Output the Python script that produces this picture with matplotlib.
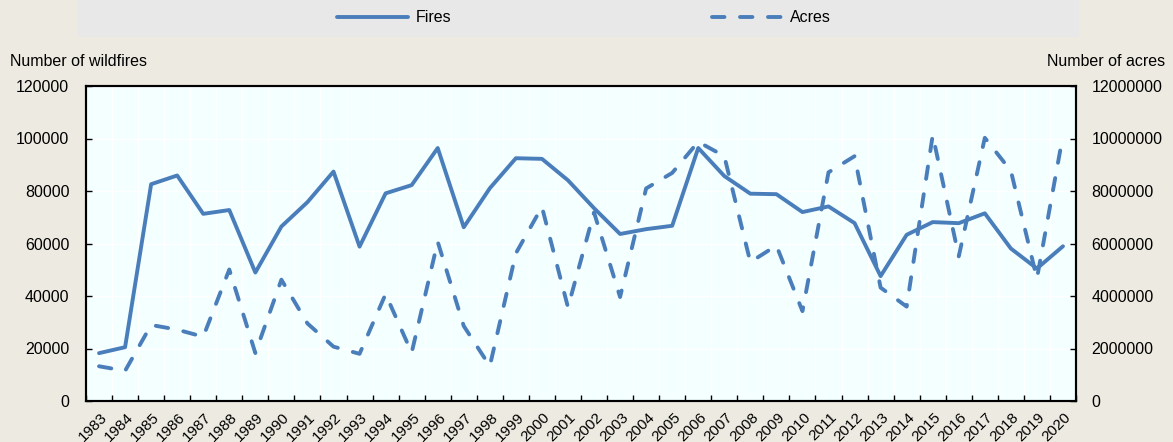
import numpy as np
import matplotlib
matplotlib.use('Agg')
import matplotlib.pyplot as plt
import matplotlib.transforms as mtransforms
from matplotlib.patches import Rectangle

plt.rcParams['font.family'] = ['Liberation Sans', 'DejaVu Sans']

years = list(range(1983, 2021))
fires = [18229, 20493, 82591, 85907, 71300, 72750, 48949, 66481, 75754, 87394,
         58810, 79107, 82234, 96363, 66196, 81043, 92487, 92250, 84079, 73457,
         63629, 65461, 66753, 96385, 85705, 78979, 78792, 71971, 74126, 67774,
         47579, 63312, 68151, 67743, 71499, 58083, 50477, 58950]
acres = [1323666, 1148409, 2896147, 2719162, 2447296, 5009290, 1827310, 4621621,
         2953578, 2069929, 1797574, 4073579, 1840546, 6065998, 2856959, 1329704,
         5626093, 7393493, 3570911, 7184712, 3960842, 8097880, 8689389, 9873745,
         9328045, 5292468, 5921786, 3422724, 8711367, 9326238, 4319546, 3595613,
         10125149, 5509995, 10026086, 8767492, 4664364, 10122336]

blue = '#4A7EBB'
bg = '#EDEBE1'
W, H = 1173, 442

fig = plt.figure(figsize=(W / 100, H / 100), dpi=100, facecolor=bg)
fig.patches.append(Rectangle((78 / W, 1 - 37 / H), 1001 / W, 37 / H,
                             transform=fig.transFigure, facecolor='#E8E8E8',
                             edgecolor='none', zorder=0))

ax = fig.add_axes([86 / W, 1 - 401 / H, 990 / W, 315 / H])
ax.set_facecolor('#F4FFFF')
ax2 = ax.twinx()

x = np.arange(len(years))
l1, = ax.plot(x, fires, color=blue, lw=2.8, solid_joinstyle='round',
              solid_capstyle='round', label='Fires', zorder=3)
l2, = ax2.plot(x, acres, color=blue, lw=2.8, dashes=(3.2, 4.0),
               dash_capstyle='round', dash_joinstyle='round', label='Acres', zorder=3)

ax.set_xlim(-0.5, len(years) - 0.5)
ax.set_ylim(0, 120000)
ax2.set_ylim(0, 12000000)
ax.set_yticks(np.arange(0, 120001, 20000))
ax2.set_yticks(np.arange(0, 12000001, 2000000))
ax.set_yticklabels([str(v) for v in range(0, 120001, 20000)], fontsize=11.5)
ax2.set_yticklabels([str(v) for v in range(0, 12000001, 2000000)], fontsize=11.5)

# category boundaries for ticks/grid; year labels drawn at category centres
ax.set_xticks(np.arange(-0.5, len(years), 1.0))
ax.set_xticklabels([])
ax.tick_params(axis='x', which='major', direction='in', length=4, width=1)
ax.tick_params(axis='y', direction='in', length=4, width=1, pad=12)
ax2.tick_params(axis='y', direction='in', length=4, width=1, pad=11)

shift = mtransforms.ScaledTranslation(1 / 100, -9 / 100, fig.dpi_scale_trans)
for xi, yr in zip(x, years):
    ax.text(xi, 0, str(yr), transform=ax.get_xaxis_transform() + shift,
            rotation=45, ha='right', va='top', rotation_mode='anchor',
            fontsize=11, clip_on=False)

ax.grid(True, which='major', color='white', lw=1)
ax.set_axisbelow(True)
for a in (ax, ax2):
    for s in a.spines.values():
        s.set_linewidth(1.5)
        s.set_color('black')

fig.text(10 / W, 1 - 61 / H, 'Number of wildfires', ha='left', va='center', fontsize=11.5)
fig.text(1165 / W, 1 - 61 / H, 'Number of acres', ha='right', va='center', fontsize=11.5)

fig.legend([l1, l2], ['Fires', 'Acres'], loc='center', ncol=2,
           bbox_to_anchor=(584 / W, 1 - 18 / H), frameon=False, fontsize=11.5,
           handlelength=4.4, handletextpad=0.5, columnspacing=16.3)

fig.savefig('out.png', dpi=100, facecolor=bg)
